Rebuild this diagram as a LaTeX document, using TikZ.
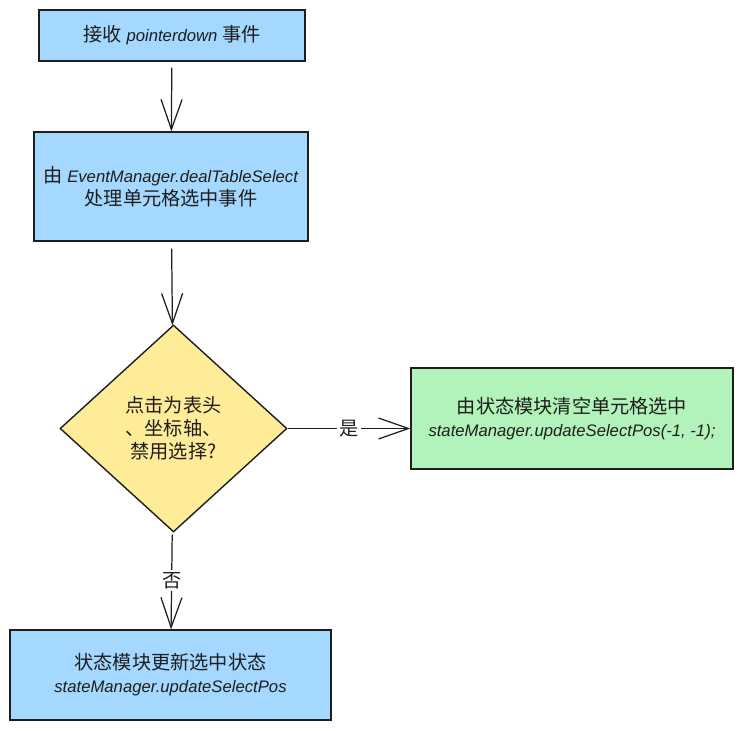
\documentclass[tikz,border=0pt]{standalone}
\usepackage{fontspec}
\setmainfont{Liberation Sans}
\newfontfamily\zhfont{Noto Sans CJK SC}[Scale=1.15]
\usetikzlibrary{shapes.geometric,arrows.meta}
\definecolor{boxblue}{HTML}{A5D8FF}
\definecolor{boxyellow}{HTML}{FFEC99}
\definecolor{boxgreen}{HTML}{B2F2BB}
\definecolor{ink}{HTML}{1E1E1E}
\begin{document}
\begin{tikzpicture}[x=0.02cm,y=-0.02cm,
    box/.style={draw=ink,line width=0.8pt,text=ink,align=center,inner sep=0pt,
      font=\fontsize{9.5}{13}\selectfont},
    bluebox/.style={box,fill=boxblue},
    greenbox/.style={box,fill=boxgreen},
    decision/.style={box,diamond,fill=boxyellow,minimum width=4.54cm,minimum height=4.14cm},
    flow/.style={draw=ink,line width=0.7pt,-{Straight Barb[length=6mm,width=4.2mm]}},
    tag/.style={fill=white,text=ink,inner sep=1.5pt,font=\fontsize{9.5}{13}\selectfont\zhfont}]
      \fill[white] (0,0) rectangle (740,730);
      \draw
        (172,35.5) node[bluebox,minimum width=5.32cm,minimum height=1.02cm] (0)
          {{\zhfont 接收} \textit{pointerdown} {\zhfont 事件}}
        (171,186.5) node[bluebox,minimum width=5.48cm,minimum height=2.18cm] (1)
          {{\zhfont 由} \textit{EventManager.dealTableSelect}\\{\zhfont 处理单元格选中事件}}
        (173.5,428.5) node[decision] (2)
          {{\zhfont 点击为表头}\\{\zhfont 、坐标轴、}\\{\zhfont 禁用选择?}}
        (572,418.5) node[greenbox,minimum width=6.44cm,minimum height=2.02cm] (3)
          {{\zhfont 由状态模块清空单元格选中}\\\textit{stateManager.updateSelectPos(-1, -1);}}
        (170.5,675) node[bluebox,minimum width=6.42cm,minimum height=1.8cm] (4)
          {{\zhfont 状态模块更新选中状态}\\\textit{stateManager.updateSelectPos}};
      \begin{scope}[flow]
        \draw[shorten <=0.12cm] (0) to (1);
        \draw[shorten <=0.14cm] (1) to (2);
        \draw (2.east) to node[tag] {是} (2.east -| 3.west);
        \draw[shorten <=0.06cm] (2) to node[tag] {否} (4);
      \end{scope}
    \end{tikzpicture}
\end{document}
